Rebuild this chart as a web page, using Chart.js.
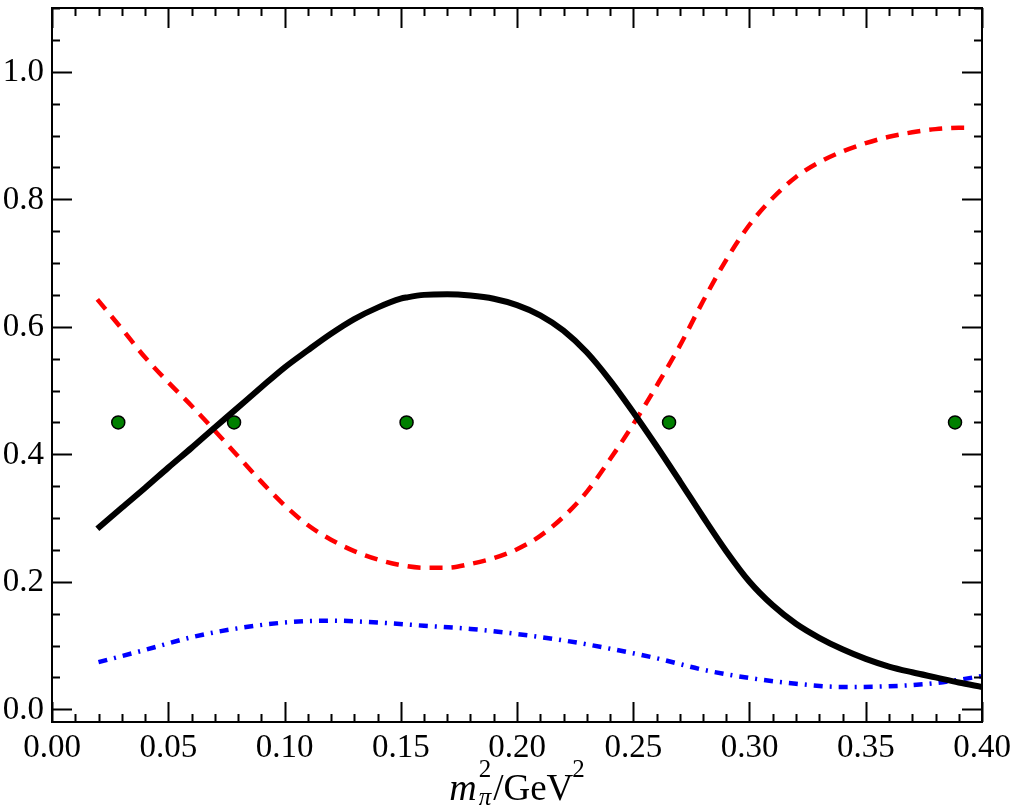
<!DOCTYPE html>
<html>
<head>
<meta charset="utf-8">
<script src="https://cdn.jsdelivr.net/npm/chart.js@4.4.1/dist/chart.umd.min.js"></script>
<style>
  html, body { margin: 0; padding: 0; background: #fff; }
  #wrap { width: 1013px; height: 811px; }
</style>
</head>
<body>
<div id="wrap"><canvas id="chart" width="1013" height="811"></canvas></div>
<script>
// curve data
const blackX = [0.0195, 0.03, 0.04, 0.05, 0.06, 0.07, 0.0783, 0.09, 0.10, 0.11, 0.12, 0.13, 0.14, 0.15, 0.1526, 0.16, 0.17, 0.18, 0.19, 0.20, 0.21, 0.22, 0.23, 0.24, 0.25, 0.26, 0.27, 0.28, 0.29, 0.30, 0.31, 0.32, 0.33, 0.34, 0.35, 0.36, 0.37, 0.38, 0.39, 0.40];
const blackY = [0.283, 0.316, 0.347, 0.379, 0.410, 0.442, 0.468, 0.505, 0.536, 0.563, 0.589, 0.612, 0.630, 0.644, 0.646, 0.650, 0.651, 0.649, 0.644, 0.634, 0.618, 0.594, 0.560, 0.516, 0.466, 0.413, 0.358, 0.302, 0.248, 0.200, 0.163, 0.134, 0.112, 0.094, 0.079, 0.067, 0.058, 0.050, 0.042, 0.035];

const redX = [0.0195, 0.03, 0.04, 0.05, 0.06, 0.07, 0.08, 0.09, 0.10, 0.11, 0.12, 0.13, 0.14, 0.15, 0.16, 0.17, 0.18, 0.19, 0.20, 0.21, 0.22, 0.23, 0.24, 0.25, 0.26, 0.27, 0.28, 0.29, 0.30, 0.31, 0.32, 0.33, 0.34, 0.35, 0.36, 0.37, 0.38, 0.39, 0.395];
const redY = [0.643, 0.597, 0.552, 0.513, 0.476, 0.437, 0.397, 0.357, 0.320, 0.289, 0.266, 0.248, 0.235, 0.226, 0.222, 0.222, 0.228, 0.237, 0.251, 0.272, 0.302, 0.341, 0.392, 0.447, 0.507, 0.570, 0.640, 0.705, 0.760, 0.802, 0.835, 0.858, 0.875, 0.888, 0.898, 0.905, 0.910, 0.912, 0.912];

const blueX = [0.02, 0.04, 0.06, 0.08, 0.10, 0.12, 0.14, 0.16, 0.18, 0.20, 0.22, 0.24, 0.26, 0.28, 0.30, 0.32, 0.34, 0.36, 0.38, 0.40];
const blueY = [0.074, 0.093, 0.113, 0.127, 0.136, 0.139, 0.136, 0.131, 0.126, 0.118, 0.108, 0.095, 0.080, 0.062, 0.049, 0.040, 0.035, 0.036, 0.041, 0.052];

const dotX = [0.0285, 0.0783, 0.1525, 0.2654, 0.3884];
const dotY = [0.45, 0.45, 0.45, 0.45, 0.45];

const xTickLabels = ['0.00', '0.05', '0.10', '0.15', '0.20', '0.25', '0.30', '0.35', '0.40'];
const yTickLabels = ['0.0', '0.2', '0.4', '0.6', '0.8', '1.0'];

const pts = (xs, ys) => xs.map((x, i) => ({ x: x, y: ys[i] }));

const FONT = "'Liberation Serif', 'DejaVu Serif', serif";

// box, inward ticks, labels and axis title
const framePlugin = {
    id: 'frame',
    afterDatasetsDraw(chart) {
        const ctx = chart.ctx;
        const a = chart.chartArea;
        const xs = chart.scales.x;
        const ys = chart.scales.y;
        ctx.save();
        ctx.strokeStyle = '#000';
        ctx.lineWidth = 2;
        ctx.strokeRect(a.left, a.top, a.right - a.left, a.bottom - a.top);

        ctx.beginPath();
        for (let i = 0; i <= 40; i++) {
            const v = i / 100;
            const px = Math.round(xs.getPixelForValue(v)) + 0.5;
            const len = (i % 5 === 0) ? 20 : 8;
            ctx.moveTo(px, a.bottom); ctx.lineTo(px, a.bottom - len);
            ctx.moveTo(px, a.top); ctx.lineTo(px, a.top + len);
        }
        for (let i = 0; i <= 22; i++) {
            const v = i * 0.05;
            const py = Math.round(ys.getPixelForValue(v)) + 0.5;
            const len = (i % 4 === 0) ? 20 : 8;
            ctx.moveTo(a.left, py); ctx.lineTo(a.left + len, py);
            ctx.moveTo(a.right, py); ctx.lineTo(a.right - len, py);
        }
        ctx.stroke();

        ctx.fillStyle = '#000';
        ctx.font = '33px ' + FONT;
        ctx.textAlign = 'center';
        ctx.textBaseline = 'alphabetic';
        xTickLabels.forEach(t => {
            ctx.fillText(t, xs.getPixelForValue(parseFloat(t)), 757);
        });
        ctx.textAlign = 'right';
        ctx.textBaseline = 'middle';
        yTickLabels.forEach(t => {
            ctx.fillText(t, a.left - 8, ys.getPixelForValue(parseFloat(t)) + 1);
        });

        // x axis title: m_pi^2 / GeV^2
        const big = '37px ' + FONT;
        const bigIt = 'italic 38px ' + FONT;
        const small = '25px ' + FONT;
        const smallIt = 'italic 25px ' + FONT;
        ctx.textAlign = 'left';
        ctx.textBaseline = 'alphabetic';
        const w = (f, t) => { ctx.font = f; return ctx.measureText(t).width; };
        const wm = w(bigIt, 'm') + 2;
        const wsc = Math.max(w(small, '2'), w(smallIt, 'π')) + 2;
        const wg = w(big, '/GeV') - 1;
        const w2 = w(small, '2');
        let x = xs.getPixelForValue(0.2) - (wm + wsc + wg + w2) / 2;
        const base = 800;
        ctx.font = bigIt; ctx.fillText('m', x, base); x += wm;
        ctx.font = small; ctx.fillText('2', x, base - 23);
        ctx.font = smallIt; ctx.fillText('π', x, base + 5);
        x += wsc;
        ctx.font = big; ctx.fillText('/GeV', x, base); x += wg;
        ctx.font = small; ctx.fillText('2', x, base - 23);
        ctx.restore();
    }
};

new Chart(document.getElementById('chart').getContext('2d'), {
    type: 'scatter',
    data: {
        datasets: [
            {
                label: 'solid',
                type: 'line',
                data: pts(blackX, blackY),
                borderColor: '#000',
                borderWidth: 6,
                pointRadius: 0,
                showLine: true,
                fill: false,
                cubicInterpolationMode: 'monotone'
            },
            {
                label: 'dashed',
                type: 'line',
                data: pts(redX, redY),
                borderColor: '#ff0000',
                borderWidth: 4.5,
                borderDash: [13, 9],
                pointRadius: 0,
                showLine: true,
                fill: false,
                cubicInterpolationMode: 'monotone'
            },
            {
                label: 'dashdot',
                type: 'line',
                data: pts(blueX, blueY),
                borderColor: '#0000ff',
                borderWidth: 4.5,
                borderDash: [9, 7, 2, 7],
                pointRadius: 0,
                showLine: true,
                fill: false,
                cubicInterpolationMode: 'monotone'
            },
            {
                label: 'points',
                data: pts(dotX, dotY),
                backgroundColor: '#008000',
                borderColor: '#000',
                borderWidth: 1.5,
                pointRadius: 6.5
            }
        ]
    },
    options: {
        responsive: false,
        animation: false,
        layout: { padding: { left: 52, right: 31, top: 3, bottom: 89 } },
        plugins: {
            legend: { display: false },
            tooltip: { enabled: false }
        },
        scales: {
            x: { type: 'linear', min: 0, max: 0.40, display: false },
            y: { type: 'linear', min: -0.02, max: 1.1, display: false }
        }
    },
    plugins: [framePlugin]
});
</script>
</body>
</html>
